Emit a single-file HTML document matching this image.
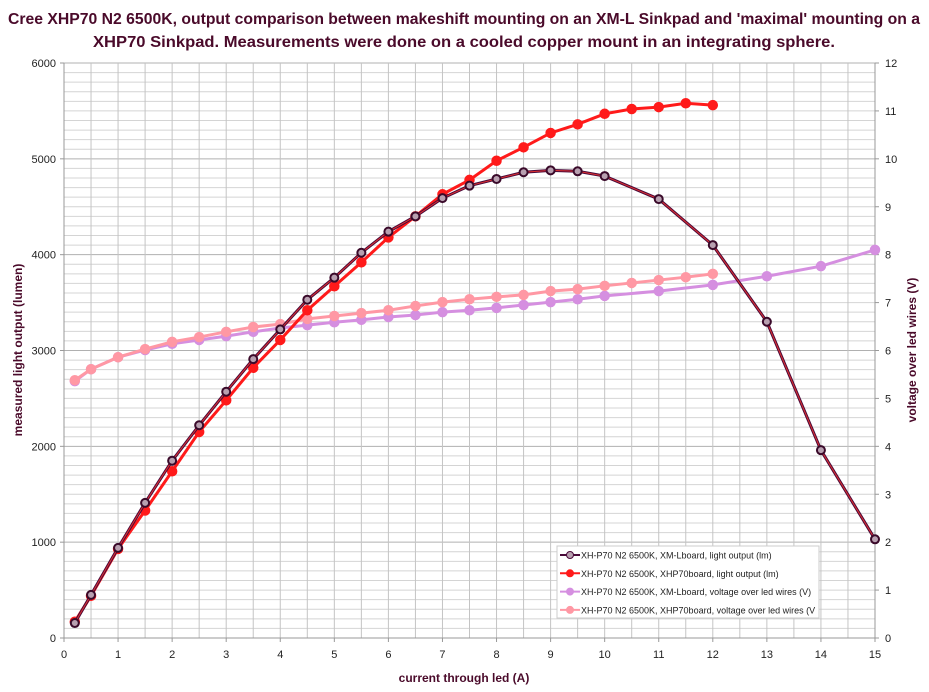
<!DOCTYPE html>
<html><head><meta charset="utf-8"><style>
html,body{margin:0;padding:0;background:#fff;}
svg{display:block;font-family:"Liberation Sans",sans-serif;}
</style></head><body>
<svg id="chart" width="929" height="692" viewBox="0 0 929 692">
<text x="464" y="24" text-anchor="middle" font-size="16" font-weight="bold" fill="#4a0a2a" textLength="912" lengthAdjust="spacingAndGlyphs">Cree XHP70 N2 6500K, output comparison between makeshift mounting on an XM-L Sinkpad and 'maximal' mounting on a</text>
<text x="464" y="47" text-anchor="middle" font-size="16" font-weight="bold" fill="#4a0a2a" textLength="742" lengthAdjust="spacingAndGlyphs">XHP70 Sinkpad. Measurements were done on a cooled copper mount in an integrating sphere.</text>
<g id="grid"></g>
<g id="axes"></g>
<g id="series"></g>
<text x="464" y="682" text-anchor="middle" font-size="12" font-weight="bold" fill="#4a0a2a">current through led (A)</text>
<text transform="translate(22,350) rotate(-90)" text-anchor="middle" font-size="12" font-weight="bold" fill="#4a0a2a">measured light output (lumen)</text>
<text transform="translate(916,350) rotate(-90)" text-anchor="middle" font-size="12" font-weight="bold" fill="#4a0a2a">voltage over led wires (V)</text>
<g id="legend"></g>
</svg>
<script>
const xA = [0.2,0.5,1,1.5,2,2.5,3,3.5,4,4.5,5,5.5,6,6.5,7,7.5,8,8.5,9,9.5,10,11,12,13,14,15];
const xmlLight = [156,450,940,1410,1850,2220,2570,2910,3220,3530,3760,4020,4240,4400,4590,4720,4790,4860,4880,4870,4820,4580,4100,3300,1960,1030];
const xmlVolt = [5.36,5.61,5.86,6.01,6.14,6.22,6.30,6.39,6.47,6.53,6.59,6.64,6.70,6.74,6.80,6.84,6.89,6.95,7.01,7.07,7.14,7.24,7.37,7.55,7.76,8.10];
const xB = [0.2,0.5,1,1.5,2,2.5,3,3.5,4,4.5,5,5.5,6,6.5,7,7.5,8,8.5,9,9.5,10,10.5,11,11.5,12];
const xhpLight = [170,440,930,1330,1740,2150,2480,2820,3110,3420,3670,3920,4180,4400,4630,4780,4980,5120,5270,5360,5470,5520,5540,5580,5560];
const xhpVolt = [5.38,5.61,5.86,6.03,6.18,6.28,6.39,6.49,6.55,6.66,6.72,6.78,6.84,6.93,7.01,7.07,7.12,7.16,7.24,7.28,7.35,7.41,7.47,7.53,7.60];
const xTicks = [0,1,2,3,4,5,6,7,8,9,10,11,12,13,14,15];
const yTicks = [0,1000,2000,3000,4000,5000,6000];
const y2Ticks = [0,1,2,3,4,5,6,7,8,9,10,11,12];
const legendLabels = ["XH-P70 N2 6500K, XM-Lboard, light output (lm)","XH-P70 N2 6500K, XHP70board, light output (lm)","XH-P70 N2 6500K, XM-Lboard, voltage over led wires (V)","XH-P70 N2 6500K, XHP70board, voltage over led wires (V"];

const L=64,R=875,T=63,B=638;
const sx=v=>L+v*(R-L)/15;
const sy=v=>B-v*(B-T)/6000;
const sy2=v=>B-v*(B-T)/12;
const NS="http://www.w3.org/2000/svg";
function mk(tag,attrs,parent){const e=document.createElementNS(NS,tag);for(const k in attrs)e.setAttribute(k,attrs[k]);parent.appendChild(e);return e;}
const grid=document.getElementById('grid'),axes=document.getElementById('axes'),ser=document.getElementById('series'),leg=document.getElementById('legend');
for(let v=100;v<=6000;v+=100){const l=mk('line',{x1:L,x2:R,y1:sy(v),y2:sy(v),stroke:v%1000===0?'#b0b0b0':'#d4d4d4','stroke-width':1},grid);

}
for(let v=0.5;v<=15;v+=0.5){const l=mk('line',{x1:sx(v),x2:sx(v),y1:T,y2:B,stroke:'#c4c4c4','stroke-width':1},grid);

}
mk('line',{x1:L,x2:L,y1:T,y2:B,stroke:'#999'},axes);
mk('line',{x1:R,x2:R,y1:T,y2:B,stroke:'#999'},axes);
mk('line',{x1:L,x2:R,y1:B,y2:B,stroke:'#999'},axes);
xTicks.forEach(v=>{const t=mk('text',{x:sx(v),y:B+20,'text-anchor':'middle','font-size':11,fill:'#222'},axes);t.textContent=v;


mk('line',{x1:sx(v),x2:sx(v),y1:B,y2:B+4,stroke:'#999'},axes);});
yTicks.forEach(v=>{const t=mk('text',{x:L-8,y:sy(v)+4,'text-anchor':'end','font-size':11,fill:'#222'},axes);t.textContent=v;


mk('line',{x1:L-4,x2:L,y1:sy(v),y2:sy(v),stroke:'#999'},axes);});
y2Ticks.forEach(v=>{const t=mk('text',{x:R+10,y:sy2(v)+4,'text-anchor':'start','font-size':11,fill:'#222'},axes);t.textContent=v;


mk('line',{x1:R,x2:R+4,y1:sy2(v),y2:sy2(v),stroke:'#999'},axes);});
function series(xs,ys,fy,color,fill,name,r){
 const g=mk('g',{},ser);
 
 
 const pts=xs.map((x,i)=>sx(x)+','+fy(ys[i])).join(' ');
 mk('polyline',{points:pts,fill:'none',stroke:color,'stroke-width':3},g);
 xs.forEach((x,i)=>{const c=mk('circle',{cx:sx(x),cy:fy(ys[i]),r:r,fill:fill,stroke:color,'stroke-width':1.5},g);
 
 });
}
series(xA,xmlVolt,sy2,'#d58fe0','#d58fe0','series-xml-voltage',4.5);
series(xB,xhpVolt,sy2,'#ff98a4','#ff98a4','series-xhp70-voltage',4.5);
series(xB,xhpLight,sy,'#ff1a1a','#ff1a1a','series-xhp70-light',4.5);
(function(){const g=mk('g',{},ser);


const pts=xA.map((x,i)=>sx(x)+','+sy(xmlLight[i])).join(' ');
mk('polyline',{points:pts,fill:'none',stroke:'#4a0a3a','stroke-width':3},g);
mk('polyline',{points:pts,fill:'none',stroke:'#e03030','stroke-width':1},g);
xA.forEach((x,i)=>{const c=mk('circle',{cx:sx(x),cy:sy(xmlLight[i]),r:4,fill:'#b8a0b0',stroke:'#3a0a2a','stroke-width':2},g);

});})();
mk('rect',{x:557,y:546,width:262,height:72,fill:'#fff',stroke:'#ccc'},leg);
const lc=[['#4a0a3a','#b8a0b0'],['#ff1a1a','#ff1a1a'],['#d58fe0','#d58fe0'],['#ff98a4','#ff98a4']];
legendLabels.forEach((s,i)=>{const y=555+i*18.3;
const e=mk('g',{},leg);


mk('line',{x1:560,x2:580,y1:y,y2:y,stroke:lc[i][0],'stroke-width':2},e);
mk('circle',{cx:570,cy:y,r:3.5,fill:lc[i][1],stroke:lc[i][0]},e);
const t=mk('text',{x:581,y:y+3.5,'font-size':9,fill:'#222'},e);t.textContent=s;});
</script>
</body></html>
